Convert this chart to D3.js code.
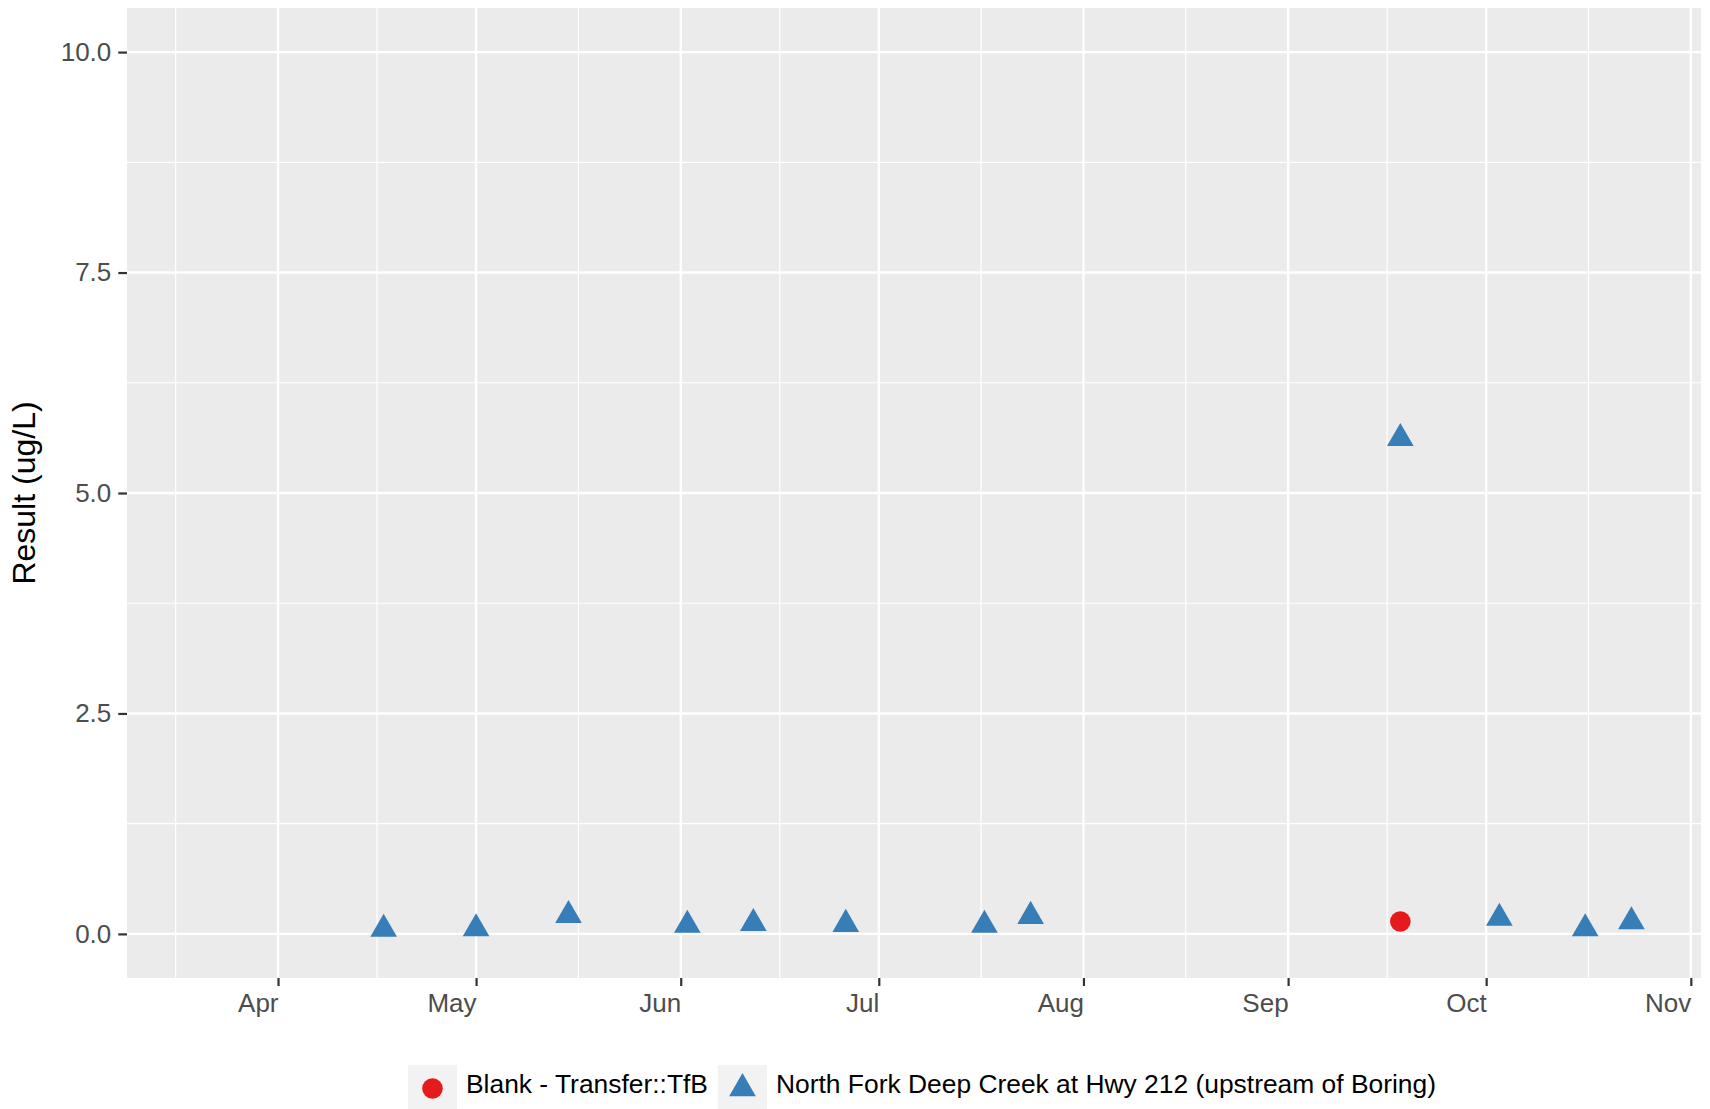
<!DOCTYPE html>
<html>
<head>
<meta charset="utf-8">
<script src="https://cdn.jsdelivr.net/npm/d3@7"></script>
<style>
  body { margin: 0; background: #fff; }
  text { font-family: "Liberation Sans", Arial, sans-serif; }
</style>
</head>
<body>
<div id="chart"></div>
<script>
// Data
const siteNames = ["Blank - Transfer::TfB", "North Fork Deep Creek at Hwy 212 (upstream of Boring)"];
const siteColors = ["#E41A1C", "#377EB8"];

const blankDates = ["2019-09-18"];
const blankValues = [0.14];

const creekDates = ["2019-04-17", "2019-05-01", "2019-05-15", "2019-06-02", "2019-06-12", "2019-06-26",
                    "2019-07-17", "2019-07-24", "2019-09-18", "2019-10-03", "2019-10-16", "2019-10-23"];
const creekValues = [0.055, 0.06, 0.21, 0.10, 0.12, 0.11, 0.10, 0.20, 5.62, 0.18, 0.06, 0.14];

const yTicks = [0, 2.5, 5, 7.5, 10];
const yLabel = "Result (ug/L)";

// Set dimensions and margins for the chart
const fullW = 1710, fullH = 1109;
const margin = { top: 8, right: 9, bottom: 131, left: 127 };
const width = fullW - margin.left - margin.right;
const height = fullH - margin.top - margin.bottom;

const parse = d3.timeParse("%Y-%m-%d");
const points = [];
blankDates.forEach((d, i) => points.push({ date: parse(d), value: blankValues[i], site: 0 }));
creekDates.forEach((d, i) => points.push({ date: parse(d), value: creekValues[i], site: 1 }));

const root = d3.select("#chart")
  .append("svg")
  .attr("width", fullW)
  .attr("height", fullH);

const svg = root.append("g")
  .attr("transform", `translate(${margin.left},${margin.top})`);

// Scales
const x = d3.scaleTime()
  .domain([new Date(2019, 2, 9, 3), new Date(2019, 10, 2, 13)])
  .range([0, width]);

const y = d3.scaleLinear()
  .domain([-0.5, 10.5])
  .range([height, 0]);

// Panel background
svg.append("rect")
  .attr("width", width)
  .attr("height", height)
  .attr("fill", "#EBEBEB");

// Gridlines (minor then major)
const monthStarts = d3.timeMonth.range(new Date(2019, 2, 1), new Date(2019, 11, 2));
const xMinor = d3.pairs(monthStarts).map(([a, b]) => new Date((+a + +b) / 2))
  .filter(d => d >= x.domain()[0] && d <= x.domain()[1]);
const xMajor = monthStarts.filter(d => d >= x.domain()[0] && d <= x.domain()[1]);
const yMinor = d3.pairs(yTicks).map(([a, b]) => (a + b) / 2);

svg.selectAll(".xminor").data(xMinor).enter().append("line")
  .attr("x1", d => x(d)).attr("x2", d => x(d))
  .attr("y1", 0).attr("y2", height)
  .attr("stroke", "#fff").attr("stroke-width", 1.2);

svg.selectAll(".yminor").data(yMinor).enter().append("line")
  .attr("x1", 0).attr("x2", width)
  .attr("y1", d => y(d)).attr("y2", d => y(d))
  .attr("stroke", "#fff").attr("stroke-width", 1.2);

svg.selectAll(".xmajor").data(xMajor).enter().append("line")
  .attr("x1", d => x(d)).attr("x2", d => x(d))
  .attr("y1", 0).attr("y2", height)
  .attr("stroke", "#fff").attr("stroke-width", 2.4);

svg.selectAll(".ymajor").data(yTicks).enter().append("line")
  .attr("x1", 0).attr("x2", width)
  .attr("y1", d => y(d)).attr("y2", d => y(d))
  .attr("stroke", "#fff").attr("stroke-width", 2.4);

// Axes
const xAxis = svg.append("g")
  .attr("transform", `translate(0,${height})`)
  .call(d3.axisBottom(x).tickValues(xMajor).tickFormat(d3.timeFormat("%b")).tickSize(8).tickPadding(8));
xAxis.select(".domain").remove();
xAxis.selectAll("line").attr("stroke", "#333").attr("stroke-width", 2.2);
xAxis.selectAll("text")
  .attr("text-anchor", "end")
  .attr("fill", "#4D4D4D")
  .style("font-size", "26px");

const yAxis = svg.append("g")
  .call(d3.axisLeft(y).tickValues(yTicks).tickFormat(d3.format(".1f")).tickSize(8.7).tickPadding(7));
yAxis.select(".domain").remove();
yAxis.selectAll("line").attr("stroke", "#333").attr("stroke-width", 2.2);
yAxis.selectAll("text")
  .attr("fill", "#4D4D4D")
  .style("font-size", "26px");

// Y axis title
root.append("text")
  .attr("transform", `translate(35,${margin.top + height / 2}) rotate(-90)`)
  .attr("text-anchor", "middle")
  .attr("fill", "#000")
  .style("font-size", "32px")
  .text(yLabel);

// Marker shapes
const triangle = d3.symbol().type(d3.symbolTriangle).size(308);
function drawMark(sel, site) {
  if (site === 0) {
    sel.append("circle").attr("r", 10.3).attr("fill", siteColors[0]);
  } else {
    sel.append("path").attr("d", triangle()).attr("fill", siteColors[1]);
  }
}

// Points
svg.selectAll(".pt")
  .data(points)
  .enter()
  .append("g")
  .attr("class", "pt")
  .attr("transform", d => `translate(${x(d.date)},${y(d.value)})`)
  .each(function (d) { drawMark(d3.select(this), d.site); });

// Legend (bottom, centered)
const legend = root.append("g");
const keySize = 49, keyGap = 9, itemGap = 10, keyTop = 1065;
let cursor = 0;
siteNames.forEach((name, i) => {
  const item = legend.append("g").attr("transform", `translate(${cursor},0)`);
  item.append("rect")
    .attr("y", keyTop)
    .attr("width", keySize)
    .attr("height", keySize)
    .attr("fill", "#F2F2F2");
  const mark = item.append("g").attr("transform", `translate(${keySize / 2},${keyTop + 23.5})`);
  drawMark(mark, i);
  const t = item.append("text")
    .attr("x", keySize + keyGap)
    .attr("y", 1093)
    .attr("fill", "#000")
    .style("font-size", "26.4px")
    .text(name);
  cursor += keySize + keyGap + t.node().getComputedTextLength() + itemGap;
});
const legendW = cursor - itemGap;
legend.attr("transform", `translate(${922 - legendW / 2},0)`);
</script>
</body>
</html>
